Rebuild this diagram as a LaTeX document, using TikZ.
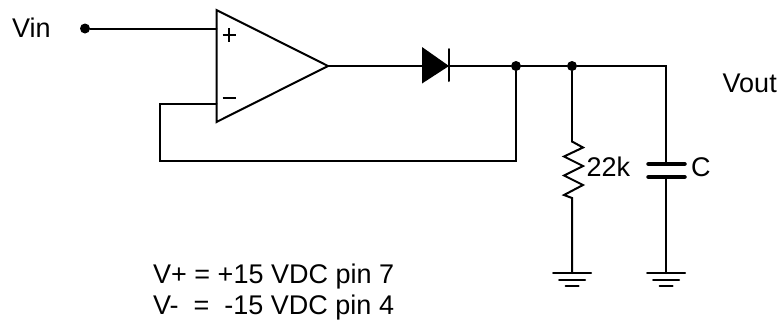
\documentclass[tikz,border=0pt]{standalone}
\usepackage{fontspec}
\setmainfont{Liberation Sans}
\tikzset{
  x=1pt,y=-1pt,
  wire/.style={line width=2pt,line cap=round,line join=miter},
  junction/.style={circle,fill=black,inner sep=0pt,minimum size=10pt},
  label/.style={inner sep=0pt,anchor=base west,font=\fontsize{27}{27}\selectfont},
  plate/.style={line width=4.5pt,line cap=round},
  pinmark/.style={line width=2pt},
}
\begin{document}
\begin{tikzpicture}
\useasboundingbox (0,0) rectangle (783,325);
% named points
\node[junction] (vin) at (85,28.5) {};
\coordinate (plus) at (216.5,28.5);
\coordinate (minus) at (216.5,104);
\coordinate (oa1) at (216.5,10);
\coordinate (oa2) at (216.5,122);
\coordinate (oaout) at (328,66);
\coordinate (fbl) at (160,104);
\coordinate (fbb) at (160,160.5);
\coordinate (da) at (422,66);
\coordinate (dk) at (449,66);
\node[junction] (j1) at (516,66) {};
\node[junction] (j2) at (572,66) {};
\coordinate (tr) at (666,66);
\coordinate (fbc) at (516,160.5);
\coordinate (rt) at (572,141.5);
\coordinate (rb) at (572,198);
\coordinate (g1) at (572,273);
\coordinate (ct) at (666,164);
\coordinate (cb) at (666,177);
\coordinate (g2) at (666,273);
% op amp
\draw[wire,line join=miter] (oa1) -- (oa2) -- (oaout) -- cycle;
\draw[pinmark] (222.5,35) -- (236,35) (229.2,28.2) -- (229.2,41.8);
\draw[pinmark] (222.5,98) -- (236,98);
% wires
\draw[wire] (vin) -- (plus);
\draw[wire] (minus) -- (fbl) -- (fbb) -- (fbc) -- (j1);
\draw[wire] (oaout) -- (da);
\draw[wire] (dk) -- (j1) -- (j2) -- (tr) -- (ct);
\draw[wire] (j2) -- (rt);
% diode
\fill (422,47) -- (449,66) -- (422,83.5) -- cycle;
\draw[wire] (449,49) -- (449,81);
% resistor
\draw[wire,line join=miter] (rt) -- (583,147.5) -- (564,156.5) -- (583,166) -- (564,175.5) -- (583,185) -- (564,195) -- (rb) -- (g1);
% capacitor
\draw[plate] (648.5,164) -- (684.5,164);
\draw[plate] (648.5,177) -- (684.5,177);
\draw[wire] (cb) -- (g2);
% grounds
\foreach \p in {g1,g2}{
  \draw[wire] ([xshift=-19pt]\p) -- ([xshift=19pt]\p);
  \draw[wire] ([xshift=-13pt,yshift=-6.5pt]\p) -- ([xshift=13pt,yshift=-6.5pt]\p);
  \draw[wire] ([xshift=-6.5pt,yshift=-13pt]\p) -- ([xshift=6.5pt,yshift=-13pt]\p);
}
% labels
\node[label] (tvin) at (12,37) {Vin};
\node[label] (tvout) at (722.5,92.5) {Vout};
\node[label] (tr22) at (586.5,176.5) {22k};
\node[label] (tc) at (691,176.5) {C};
\node[label] (tv1) at (153,283) {V+ = +15 VDC pin 7};
\node[label] (tv2) at (153,314) {V-\ \ =\ \ -15 VDC pin 4};
\end{tikzpicture}
\end{document}
